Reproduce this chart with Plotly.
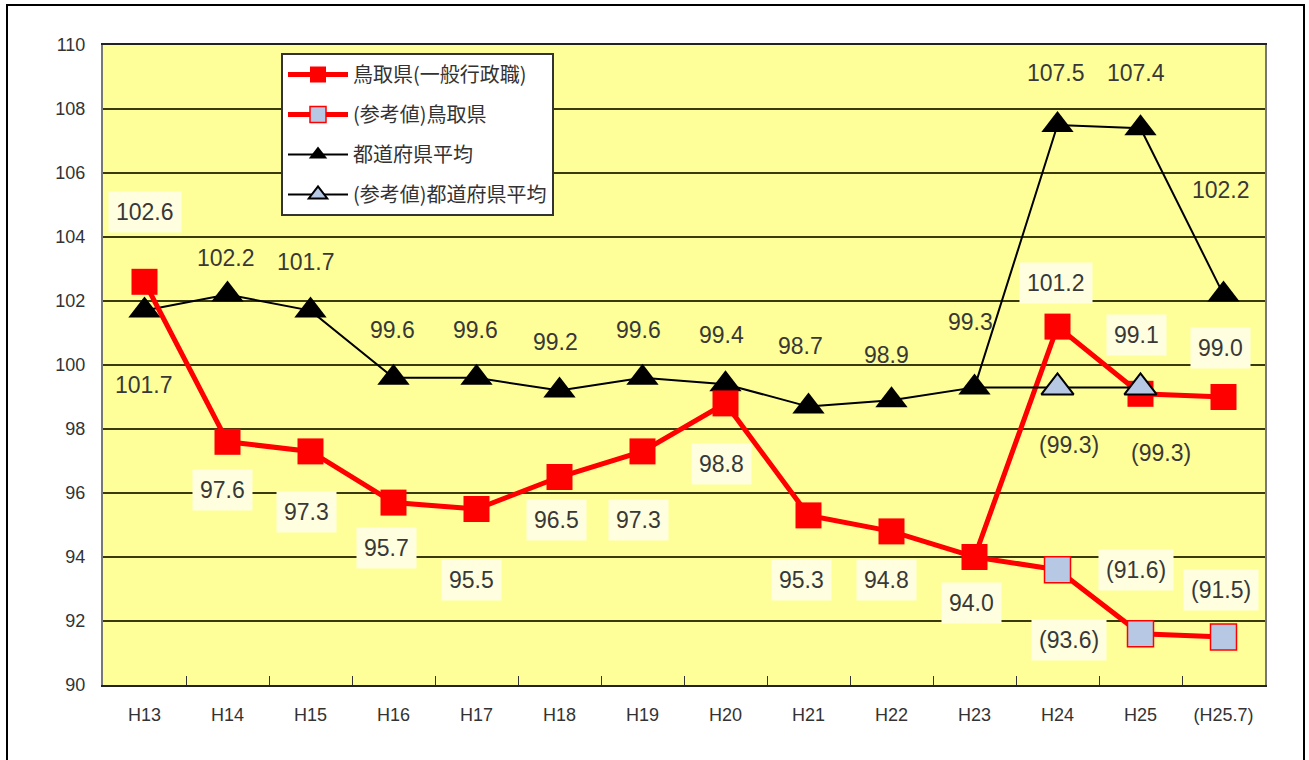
import plotly.graph_objects as go

categories = ["H13", "H14", "H15", "H16", "H17", "H18", "H19", "H20", "H21", "H22", "H23", "H24", "H25", "(H25.7)"]
tottori = [102.6, 97.6, 97.3, 95.7, 95.5, 96.5, 97.3, 98.8, 95.3, 94.8, 94.0, 101.2, 99.1, 99.0]
national = [101.7, 102.2, 101.7, 99.6, 99.6, 99.2, 99.6, 99.4, 98.7, 98.9, 99.3, 107.5, 107.4, 102.2]
ref_tottori_x = ["H24", "H25", "(H25.7)"]
ref_tottori = [93.6, 91.6, 91.5]
ref_national_x = ["H24", "H25"]
ref_national = [99.3, 99.3]
# the reference lines start from the H23 value of the main series
ref_start_x = "H23"

names = ["鳥取県(一般行政職)", "(参考値)鳥取県", "都道府県平均", "(参考値)都道府県平均"]

# label offsets in pixels (dx, dy)
tottori_off = [(0, 70), (-5, -48), (-4, -61), (-7, -45), (-5, -71), (-3, -43), (-4, -69),
               (-4, -61), (-7, -65), (-5, -49), (-3, -46), (-2, 44), (-4, 59), (-3, 49)]
national_off = [(-1, -74), (-2, 37), (-5, 49), (-1, 48), (-1, 48), (-4, 49), (-4, 48),
                (-4, 49), (-8, 61), (-5, 45), (-4, 65), (-2, 52), (-5, 55), (-3, 105)]
ref_tottori_off = [(11, -70), (-5, 64), (-3, 47)]
ref_national_off = [(11, -58), (20, -66)]

RED = "#FF0000"
LBLUE = "#B7C8E4"
YELLOW = "#FFFF99"
LABELBG = "#FFFFE0"

fig = go.Figure()

# reference Tottori (line segment from H23 + markers)
fig.add_trace(go.Scatter(x=[ref_start_x, ref_tottori_x[0]], y=[tottori[categories.index(ref_start_x)], ref_tottori[0]],
                         mode="lines", line=dict(color=RED, width=5), showlegend=False, hoverinfo="skip"))
fig.add_trace(go.Scatter(x=ref_tottori_x, y=ref_tottori, name=names[1], mode="lines+markers",
                         line=dict(color=RED, width=5),
                         marker=dict(symbol="square", size=26, color=LBLUE, line=dict(color=RED, width=1.5)),
                         legendrank=2, legendgroup="b"))
# national average
fig.add_trace(go.Scatter(x=categories, y=national, name=names[2], mode="lines+markers",
                         line=dict(color="black", width=2),
                         marker=dict(symbol="triangle-up", size=28, color="black"),
                         legendrank=3, legendgroup="c"))
# Tottori main
fig.add_trace(go.Scatter(x=categories, y=tottori, name=names[0], mode="lines+markers",
                         line=dict(color=RED, width=5),
                         marker=dict(symbol="square", size=26, color=RED),
                         legendrank=1, legendgroup="a"))
# reference national
fig.add_trace(go.Scatter(x=[ref_start_x, ref_national_x[0]], y=[national[categories.index(ref_start_x)], ref_national[0]],
                         mode="lines", line=dict(color="black", width=2), showlegend=False, hoverinfo="skip"))
fig.add_trace(go.Scatter(x=ref_national_x, y=ref_national, name=names[3], mode="lines+markers",
                         line=dict(color="black", width=2),
                         marker=dict(symbol="triangle-up", size=28, color=LBLUE, line=dict(color="black", width=2)),
                         legendrank=4, legendgroup="d"))

font_lbl = dict(family="Liberation Sans, Arial, sans-serif", size=23, color="#383838")

def add_labels(xs, ys, offs, bg, fmt):
    for xv, yv, (dx, dy) in zip(xs, ys, offs):
        fig.add_annotation(x=xv, y=yv, text=fmt.format(yv), showarrow=False,
                           xshift=dx, yshift=dy, font=font_lbl,
                           bgcolor=bg, borderpad=7)

add_labels(categories, tottori, tottori_off, LABELBG, "{:.1f}")
add_labels(categories, national, national_off, "rgba(0,0,0,0)", "{:.1f}")
add_labels(ref_tottori_x, ref_tottori, ref_tottori_off, LABELBG, "({:.1f})")
add_labels(ref_national_x, ref_national, ref_national_off, "rgba(0,0,0,0)", "({:.1f})")

# outer frame
L, R, T, B = 103, 44, 45, 75
W, H = 1309, 760
pw, ph = W - L - R, H - T - B
def px2paper_x(px):
    return (px - L) / pw
def px2paper_y(py):
    return (H - B - py) / ph
fig.add_shape(type="rect", xref="paper", yref="paper",
              x0=px2paper_x(7), x1=px2paper_x(1304), y0=px2paper_y(775), y1=px2paper_y(5),
              line=dict(color="black", width=2), fillcolor="rgba(0,0,0,0)", layer="below")

fig.update_layout(
    width=W, height=H,
    margin=dict(l=L, r=R, t=T, b=B),
    paper_bgcolor="white",
    plot_bgcolor=YELLOW,
    font=dict(family="Liberation Sans, Arial, sans-serif", color="#333333"),
    showlegend=True,
    legend=dict(x=px2paper_x(281), y=px2paper_y(53), xanchor="left", yanchor="top",
                bgcolor="white", bordercolor="#333333", borderwidth=2,
                font=dict(size=20, color="#333333",
                          family="Noto Sans CJK JP, Liberation Sans, sans-serif"),
                traceorder="grouped", tracegroupgap=11, itemwidth=60),
    xaxis=dict(type="category", categoryorder="array", categoryarray=categories,
               range=[-0.5, len(categories) - 0.5],
               showgrid=False, ticks="inside", tickson="boundaries", ticklen=9,
               tickcolor="#333333", tickwidth=1,
               showline=True, linecolor="#222222", linewidth=2, mirror=True,
               tickfont=dict(size=18, color="#333333"), ticklabelstandoff=12),
    yaxis=dict(range=[90, 110], dtick=2, showgrid=True, gridcolor="#3a3a10", gridwidth=2,
               showline=True, linecolor="#777777", linewidth=2, mirror=True,
               ticks="", tickfont=dict(size=18, color="#333333"), ticklabelstandoff=12,
               zeroline=False),
)

fig.write_html("out.html", config={"displayModeBar": False},
               post_script="document.body.style.margin='0px';document.body.style.overflow='hidden';")
